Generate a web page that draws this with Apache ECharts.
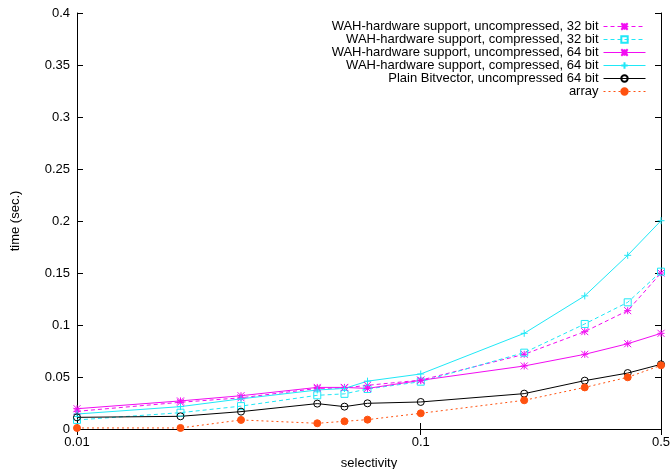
<!DOCTYPE html>
<html>
<head>
<meta charset="utf-8">
<script src="https://cdn.jsdelivr.net/npm/echarts@6/dist/echarts.min.js"></script>
<style>
  html, body { margin: 0; padding: 0; background: #fff; }
  #chart { width: 670px; height: 469px; }
</style>
</head>
<body>
<div id="chart"></div>
<script>
// x values (selectivity)
var selectivity = [0.01, 0.02, 0.03, 0.05, 0.06, 0.07, 0.1, 0.2, 0.3, 0.4, 0.5];
// y values (time, sec.)
var wahUncomp32 = [0.017, 0.0257, 0.030, 0.039, 0.0395, 0.042, 0.047, 0.0718, 0.0936, 0.1138, 0.150];
var wahComp32   = [0.0087, 0.0157, 0.022, 0.0324, 0.0338, 0.0385, 0.0455, 0.0734, 0.101, 0.1218, 0.1513];
var wahUncomp64 = [0.0195, 0.027, 0.032, 0.040, 0.040, 0.039, 0.0468, 0.0606, 0.0718, 0.082, 0.092];
var wahComp64   = [0.0144, 0.0215, 0.029, 0.0375, 0.039, 0.046, 0.0529, 0.092, 0.128, 0.167, 0.2003];
var plainBv64   = [0.0112, 0.0122, 0.0167, 0.0244, 0.0215, 0.0247, 0.026, 0.034, 0.0465, 0.0538, 0.0622];
var arrayTimes  = [0.001, 0.001, 0.0087, 0.0055, 0.0074, 0.009, 0.0151, 0.0276, 0.040, 0.0497, 0.0612];

var xTicks = [0.01, 0.1, 0.5];

var FONT = 'Liberation Sans';
var MAGENTA = '#f20cf2';
var CYAN = '#1fe8f7';
var ORANGE = '#ff5210';

var STAR = 'path://M0,0L10,10M10,0L0,10M5,0L5,10M0,5L10,5';
var PLUS = 'path://M5,0L5,10M0,5L10,5';

function pairs(ys) {
    return ys.map(function (y, i) { return [selectivity[i], y]; });
}

function mk(name, ys, color, dash, symbol, filled, width) {
    return {
        name: name,
        type: 'line',
        data: pairs(ys),
        symbol: symbol,
        symbolSize: 7,
        showSymbol: true,
        lineStyle: { color: color, width: width || 1, type: dash },
        itemStyle: {
            color: filled ? color : 'none',
            borderColor: color,
            borderWidth: 1
        },
        emphasis: { disabled: true }
    };
}

var axisLineStyle = { show: true, lineStyle: { color: '#000', width: 1 } };

var option = {
    animation: false,
    backgroundColor: '#fff',
    textStyle: { fontFamily: FONT },
    grid: { left: 77, right: 9, top: 13, bottom: 40, outerBoundsMode: 'none', containLabel: false },
    legend: {
        orient: 'vertical',
        right: 19,
        top: 15,
        align: 'right',
        itemWidth: 42,
        itemHeight: 8,
        itemGap: 0,
        lineStyle: { width: 1 },
        textStyle: { fontFamily: FONT, fontSize: 13, color: '#000', lineHeight: 12 },
        data: [
            'WAH-hardware support, uncompressed, 32 bit',
            'WAH-hardware support, compressed, 32 bit',
            'WAH-hardware support, uncompressed, 64 bit',
            'WAH-hardware support, compressed, 64 bit',
            'Plain Bitvector, uncompressed 64 bit',
            'array'
        ]
    },
    xAxis: [{
        type: 'log',
        logBase: 10,
        min: 0.01,
        max: 0.5,
        name: 'selectivity',
        nameLocation: 'middle',
        nameGap: 28,
        nameTextStyle: { fontFamily: FONT, fontSize: 13, color: '#000' },
        axisLine: axisLineStyle,
        axisTick: { inside: true, length: 6, customValues: xTicks, lineStyle: { color: '#000' } },
        axisLabel: { customValues: xTicks, margin: 7, fontFamily: FONT, fontSize: 13, color: '#000',
            formatter: function (v) { return String(+v.toPrecision(6)); } },
        splitLine: { show: false },
        minorTick: { show: false }
    }, {
        type: 'log',
        logBase: 10,
        min: 0.01,
        max: 0.5,
        position: 'top',
        axisLine: axisLineStyle,
        axisTick: { inside: true, length: 6, customValues: xTicks, lineStyle: { color: '#000' } },
        axisLabel: { show: false },
        splitLine: { show: false }
    }],
    yAxis: [{
        type: 'value',
        min: 0,
        max: 0.4,
        interval: 0.05,
        name: 'time (sec.)',
        nameLocation: 'middle',
        nameGap: 55,
        nameTextStyle: { fontFamily: FONT, fontSize: 13, color: '#000' },
        axisLine: axisLineStyle,
        axisTick: { inside: true, length: 6, lineStyle: { color: '#000' } },
        axisLabel: { margin: 7, fontFamily: FONT, fontSize: 13, color: '#000' },
        splitLine: { show: false }
    }, {
        type: 'value',
        min: 0,
        max: 0.4,
        interval: 0.05,
        position: 'right',
        axisLine: axisLineStyle,
        axisTick: { inside: true, length: 6, lineStyle: { color: '#000' } },
        axisLabel: { show: false },
        splitLine: { show: false }
    }],
    series: [
        mk('WAH-hardware support, uncompressed, 32 bit', wahUncomp32, MAGENTA, [4, 3], STAR, false),
        mk('WAH-hardware support, compressed, 32 bit', wahComp32, CYAN, [4, 3], 'rect', false),
        mk('WAH-hardware support, uncompressed, 64 bit', wahUncomp64, MAGENTA, 'solid', STAR, false),
        mk('WAH-hardware support, compressed, 64 bit', wahComp64, CYAN, 'solid', PLUS, false),
        mk('Plain Bitvector, uncompressed 64 bit', plainBv64, '#000', 'solid', 'circle', false),
        mk('array', arrayTimes, ORANGE, [2, 3], 'circle', true)
    ]
};

var myChart = echarts.init(document.getElementById('chart'), null, { renderer: 'canvas' });
myChart.setOption(option);
</script>
</body>
</html>
